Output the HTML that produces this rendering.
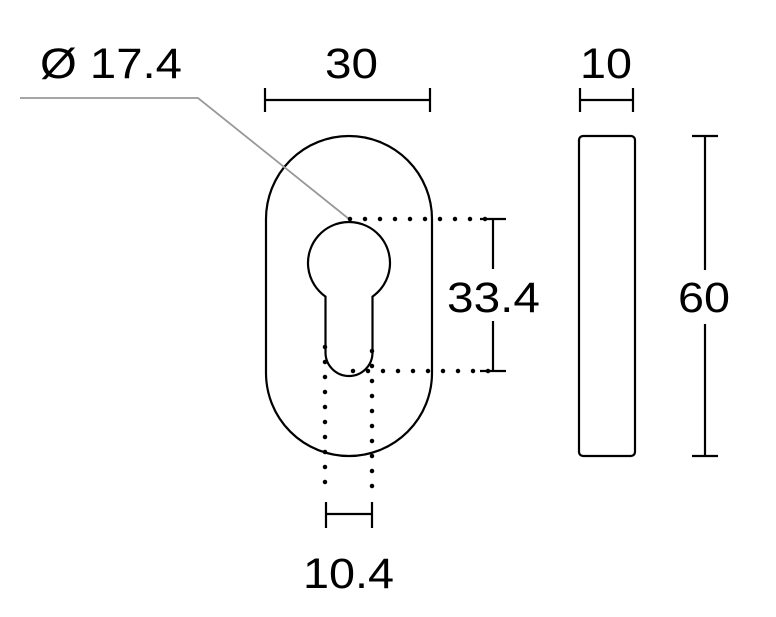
<html><body style="margin:0;background:#fff">
<svg width="776" height="617" viewBox="0 0 776 617" xmlns="http://www.w3.org/2000/svg" style="display:block">
<g fill="none" stroke="#000" stroke-width="2.2">
<path d="M266,219 A83,83 0 0 1 432,219 L432,373 A83,83 0 0 1 266,373 Z"/>
<path d="M325.5,296.6 A41,41 0 1 1 372.5,296.6 L372.5,352.5 A23.5,23.5 0 0 1 325.5,352.5 Z"/>
<rect x="579" y="136" width="56" height="320" rx="4"/>
<path d="M265,100 H430 M265,88 V112 M430,88 V112"/>
<path d="M580,100 H633 M580,88 V112 M633,88 V112"/>
<path d="M493,219 V269 M493,321 V371 M480,219 H506 M480,371 H506"/>
<path d="M705,136 V270 M705,324 V456 M692,136 H718 M692,456 H718"/>
<path d="M326,514 H372 M326,502 V528 M372,502 V528"/>
</g>
<path d="M20,98 H198 L349,219" fill="none" stroke="#999" stroke-width="1.8"/>
<g fill="none" stroke="#000" stroke-width="4.5" stroke-linecap="round" stroke-dasharray="0 15">
<path d="M350,219 H490"/>
<path d="M353,371 H490"/>
<path d="M325,347 V497"/>
<path d="M372,351 V497"/>
</g>
<g font-family="Liberation Sans, sans-serif" font-size="43" fill="#000" lengthAdjust="spacingAndGlyphs">
<text x="40" y="78" textLength="142" lengthAdjust="spacingAndGlyphs">Ø 17.4</text>
<text x="325" y="78" textLength="53" lengthAdjust="spacingAndGlyphs">30</text>
<text x="580" y="78" textLength="52" lengthAdjust="spacingAndGlyphs">10</text>
<text x="447" y="312" textLength="93" lengthAdjust="spacingAndGlyphs">33.4</text>
<text x="678" y="312" textLength="52" lengthAdjust="spacingAndGlyphs">60</text>
<text x="303" y="588" textLength="91" lengthAdjust="spacingAndGlyphs">10.4</text>
</g>
</svg>
</body></html>
